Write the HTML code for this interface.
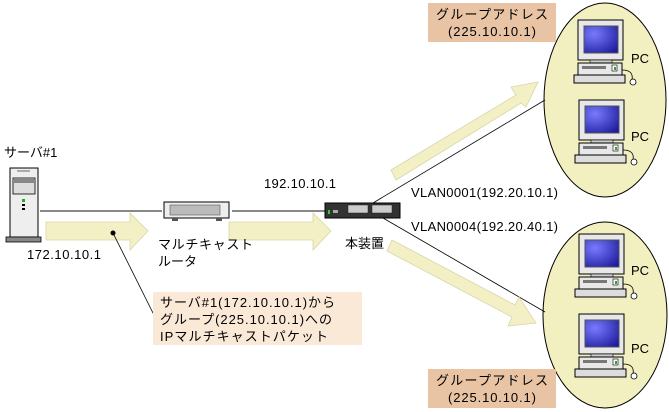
<!DOCTYPE html>
<html><head><meta charset="utf-8"><style>
body{margin:0;background:#fff}
svg{display:block}
text{font-family:"Liberation Sans","Noto Sans CJK JP",sans-serif;font-size:13px;fill:#000}
</style></head><body>
<svg width="669" height="412" viewBox="0 0 669 412" xmlns="http://www.w3.org/2000/svg">
<defs>
<radialGradient id="scr" cx="0.3" cy="0.3" r="0.9"><stop offset="0" stop-color="#7a7aff"/><stop offset="1" stop-color="#1a1a9a"/></radialGradient>
<g id="pc">
<rect x="0" y="0" width="45" height="40" fill="#e8e8e8" stroke="#000"/>
<rect x="6" y="6" width="34" height="27" fill="url(#scr)" stroke="#555"/>
<rect x="12" y="40" width="22" height="3" fill="#ccc" stroke="#000" stroke-width="0.6"/>
<rect x="0" y="43" width="44" height="12" fill="#e8e8e8" stroke="#000"/>
<rect x="4" y="46" width="24" height="3" fill="#777"/>
<rect x="34" y="45" width="5" height="6" fill="#fff" stroke="#000" stroke-width="0.6"/>
<rect x="36" y="47" width="2" height="3" fill="#2a2"/>
<rect x="-4" y="55" width="51" height="8" fill="#ddd" stroke="#000"/>
<path d="M44 50 Q56 50 54 60" fill="none" stroke="#000" stroke-width="0.8"/>
<circle cx="55" cy="62" r="3" fill="#fff" stroke="#000" stroke-width="0.8"/>
</g>
</defs>
<ellipse cx="605" cy="100" rx="61" ry="97" fill="#f2f0c0" stroke="#000"/>
<ellipse cx="605" cy="315" rx="62" ry="93" fill="#f2f0c0" stroke="#000"/>
<use href="#pc" x="578" y="20"/>
<use href="#pc" x="579" y="100"/>
<use href="#pc" x="579" y="234"/>
<use href="#pc" x="579" y="314"/>
<text x="631" y="63">PC</text>
<text x="631" y="141">PC</text>
<text x="631" y="275">PC</text>
<text x="631" y="353">PC</text>
<rect x="428" y="3" width="128" height="39" fill="#e8c4a4"/>
<text x="436" y="19" textLength="112" font-size="14">グループアドレス</text>
<text x="448" y="36" textLength="88">(225.10.10.1)</text>
<rect x="428" y="369" width="128" height="39" fill="#e8c4a4"/>
<text x="436" y="385" textLength="112" font-size="14">グループアドレス</text>
<text x="448" y="402" textLength="88">(225.10.10.1)</text>
<line x1="40" y1="211" x2="162" y2="211" stroke="#888" stroke-width="2"/>
<line x1="232" y1="211" x2="327" y2="211" stroke="#888" stroke-width="2"/>
<line x1="373" y1="203" x2="545" y2="100" stroke="#000" stroke-width="0.8"/>
<line x1="383" y1="218" x2="545" y2="312" stroke="#000" stroke-width="0.8"/>
<g fill="#f2f0c4" stroke="#d8d6a8" stroke-width="0.8">
<polygon points="46,222 130,222 130,213 148,231 130,250 130,240 46,240"/>
<polygon points="229,222 313,222 313,213 331,231 313,250 313,240 229,240"/>
<polygon points="391,170 516,95 511,87 538,82 526,107 521,103 396,180"/>
<polygon points="392,240 515,305 519,297 536,323 508,326 512,317 387,251"/>
</g>
<rect x="10" y="168" width="28" height="69" fill="#eee" stroke="#000"/>
<rect x="13" y="178" width="22" height="16" fill="#ddd" stroke="#000" stroke-width="0.8"/>
<rect x="14" y="179" width="20" height="4" fill="#888"/>
<line x1="17" y1="171" x2="30" y2="171" stroke="#666"/>
<rect x="22" y="199" width="3" height="3" fill="#2a2"/>
<rect x="22" y="204" width="3" height="2" fill="#000"/>
<rect x="22" y="208" width="3" height="2" fill="#000"/>
<rect x="6" y="237" width="35" height="5" fill="#888" stroke="#000" stroke-width="0.8"/>
<rect x="164" y="202" width="65" height="16" fill="#eee" stroke="#000"/>
<rect x="170" y="205" width="50" height="10" fill="#bbb" stroke="#555" stroke-width="0.6"/>
<rect x="172" y="218" width="6" height="3" fill="#555"/>
<rect x="216" y="218" width="6" height="3" fill="#555"/>
<rect x="325" y="203" width="75" height="15" fill="#333" stroke="#000"/>
<rect x="328" y="210" width="2" height="4" fill="#3c3"/>
<rect x="333" y="210" width="5" height="3" fill="#aaa"/>
<rect x="348" y="205" width="20" height="8" fill="#ccc" stroke="#222" stroke-width="0.5"/>
<rect x="372" y="205" width="20" height="8" fill="#ccc" stroke="#222" stroke-width="0.5"/>
<circle cx="113" cy="233" r="2.5" fill="#000"/>
<line x1="113" y1="233" x2="154" y2="315" stroke="#000" stroke-width="0.8"/>
<rect x="153" y="292" width="209" height="53" fill="#fbe9d8"/>
<text x="160" y="307" textLength="175">サーバ#1(172.10.10.1)から</text>
<text x="160" y="324" textLength="172">グループ(225.10.10.1)への</text>
<text x="160" y="341" textLength="168">IPマルチキャストパケット</text>
<text x="4" y="157">サーバ#1</text>
<text x="27" y="259" textLength="74">172.10.10.1</text>
<text x="158" y="249" textLength="95">マルチキャスト</text>
<text x="158" y="266">ルータ</text>
<text x="264" y="188" textLength="72">192.10.10.1</text>
<text x="345" y="248">本装置</text>
<text x="411" y="197" textLength="147">VLAN0001(192.20.10.1)</text>
<text x="411" y="231" textLength="147">VLAN0004(192.20.40.1)</text>
</svg>
</body></html>
